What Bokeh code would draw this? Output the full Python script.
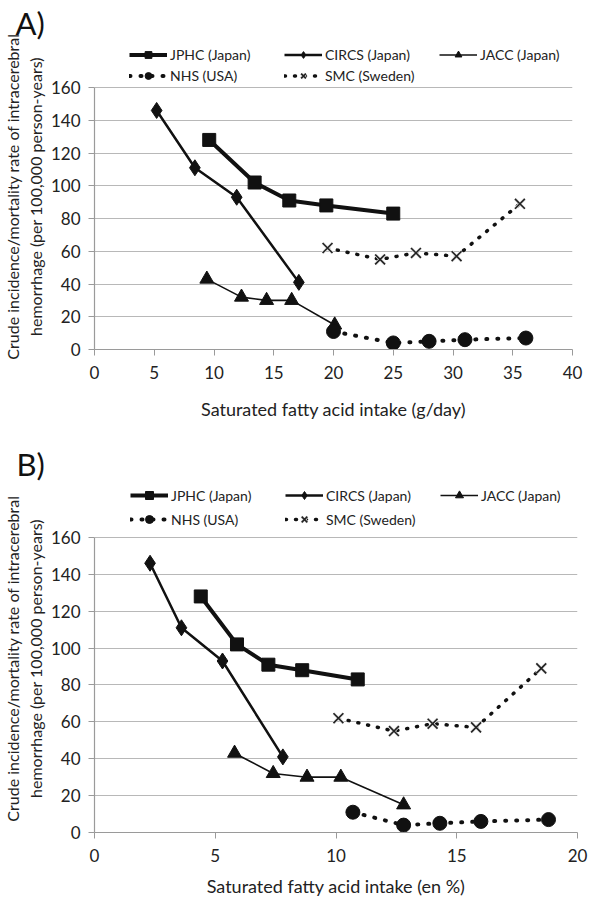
from bokeh.plotting import figure
from bokeh.models import Legend, LegendItem, Range1d, FixedTicker
from bokeh.layouts import column
from bokeh.embed import file_html
from bokeh.resources import INLINE

# ---------------- data ----------------
rate_jphc = [128, 102, 91, 88, 83]
rate_circs = [146, 111, 93, 41]
rate_jacc = [43, 32, 30, 30, 15]
rate_nhs = [11, 4, 5, 6, 7]
rate_smc = [62, 55, 59, 57, 89]

# Panel A: g/day
a_jphc = [9.6, 13.4, 16.3, 19.4, 25.0]
a_circs = [5.2, 8.4, 11.9, 17.1]
a_jacc = [9.4, 12.3, 14.4, 16.5, 20.1]
a_nhs = [20.0, 25.0, 28.0, 31.0, 36.1]
a_smc = [19.5, 23.9, 26.9, 30.3, 35.6]

# Panel B: energy %
b_jphc = [4.4, 5.9, 7.2, 8.6, 10.9]
b_circs = [2.3, 3.6, 5.3, 7.8]
b_jacc = [5.8, 7.4, 8.8, 10.2, 12.8]
b_nhs = [10.7, 12.8, 14.3, 16.0, 18.8]
b_smc = [10.1, 12.4, 14.0, 15.8, 18.5]

a_xticks = [0, 5, 10, 15, 20, 25, 30, 35, 40]
b_xticks = [0, 5, 10, 15, 20]
yticks = [0, 20, 40, 60, 80, 100, 120, 140, 160]

labels = ["JPHC (Japan)", "CIRCS (Japan)", "JACC (Japan)", "NHS (USA)", "SMC (Sweden)"]

FONT = "Lato"
INK = "#111111"
TXT = "#222222"
W = 600
Y_AXIS_MAX = 160

STYLES = [
    dict(line=dict(line_width=4, line_color=INK),
         marks=[dict(marker="square", size=13, color=INK)]),
    dict(line=dict(line_width=2.5, line_color=INK),
         marks=[dict(marker="diamond", size=16, color=INK)]),
    dict(line=dict(line_width=1.6, line_color=INK),
         marks=[dict(marker="triangle", size=14, color=INK)]),
    dict(line=dict(line_width=4, line_color=INK, line_dash="1 10", line_cap="round"),
         marks=[dict(marker="circle", size=14, color=INK)]),
    dict(line=dict(line_width=3.5, line_color=INK, line_dash="1 9", line_cap="round"),
         marks=[dict(marker="x", size=14, line_color="#e2e2e2", line_width=3),
                dict(marker="x", size=14, line_color="#222222", line_width=1.6)]),
]


def make_panel(letter, xs_list, x_end, xticks, x_label, fw, fh, y_view_max, left, top, bottom,
               leg_x, leg_y, row_h):
    p = figure(frame_width=fw, frame_height=fh, output_backend="svg", toolbar_location=None,
               x_range=Range1d(0, x_end), y_range=Range1d(0, y_view_max), title=letter,
               min_border_left=left, min_border_right=W - left - fw,
               min_border_top=top, min_border_bottom=bottom)
    p.title.text_font = FONT
    p.title.text_font_size = "31px"
    p.title.text_font_style = "normal"
    p.title.text_color = INK
    p.title.align = "left"
    p.title.vertical_align = "top"
    p.title.offset = 12 - left
    p.title.standoff = 0
    p.outline_line_color = None
    p.xgrid.visible = False
    p.ygrid.grid_line_color = "#b8b8b8"
    p.ygrid.grid_line_width = 1.2
    p.xaxis.ticker = FixedTicker(ticks=xticks)
    p.yaxis.ticker = FixedTicker(ticks=yticks)
    p.yaxis.bounds = (0, Y_AXIS_MAX)
    for ax in (p.xaxis[0], p.yaxis[0]):
        ax.axis_line_color = "#9a9a9a"
        ax.axis_line_width = 1.2
        ax.major_tick_line_color = "#9a9a9a"
        ax.major_tick_out = 6
        ax.major_tick_in = 0
        ax.minor_tick_line_color = None
        ax.major_label_text_font = FONT
        ax.major_label_text_font_size = "17px"
        ax.major_label_text_color = TXT
        ax.axis_label_text_font = FONT
        ax.axis_label_text_font_style = "normal"
        ax.axis_label_text_color = TXT
    p.xaxis.axis_label_text_font_size = "18px"
    p.yaxis.axis_label_text_font_size = "16px"
    p.xaxis.major_label_standoff = 10
    p.yaxis.major_label_standoff = 8
    p.yaxis.axis_label_standoff = 3
    p.xaxis.axis_label = x_label
    p.yaxis.axis_label = "Crude incidence/mortality rate of intracerebral\nhemorrhage (per 100,000 person-years)"

    ys_list = [rate_jphc, rate_circs, rate_jacc, rate_nhs, rate_smc]
    items = []
    for st, xs, ys, lab in zip(STYLES, xs_list, ys_list, labels):
        r = [p.line(xs, ys, **st["line"])]
        for m in st["marks"]:
            r.append(p.scatter(xs, ys, **m))
        items.append(LegendItem(label=lab, renderers=r))

    leg = Legend(items=items, ncols=3, orientation="horizontal", location=(leg_x, leg_y),
                 border_line_color=None, background_fill_alpha=0,
                 padding=0, margin=0, spacing=4, glyph_width=38, glyph_height=row_h,
                 label_height=row_h, label_width=110, label_standoff=3,
                 label_text_font=FONT, label_text_font_size="14px", label_text_color=TXT)
    p.add_layout(leg, "center")
    return p


pa = make_panel("A)", [a_jphc, a_circs, a_jacc, a_nhs, a_smc], 40, a_xticks,
                "Saturated fatty acid intake (g/day)", 478, 306, 186.9, 91, 43, 92,
                35, 265, 17)
pa.xaxis.axis_label_standoff = 16
pb = make_panel("B)", [b_jphc, b_circs, b_jacc, b_nhs, b_smc], 20, b_xticks,
                "Saturated fatty acid intake (en %)", 483, 348, 188.7, 90, 43, 66,
                36, 303, 20)
pb.xaxis.axis_label_standoff = 10

layout = column(pa, pb, spacing=0)
open("out.html", "w").write(file_html(layout, INLINE))
